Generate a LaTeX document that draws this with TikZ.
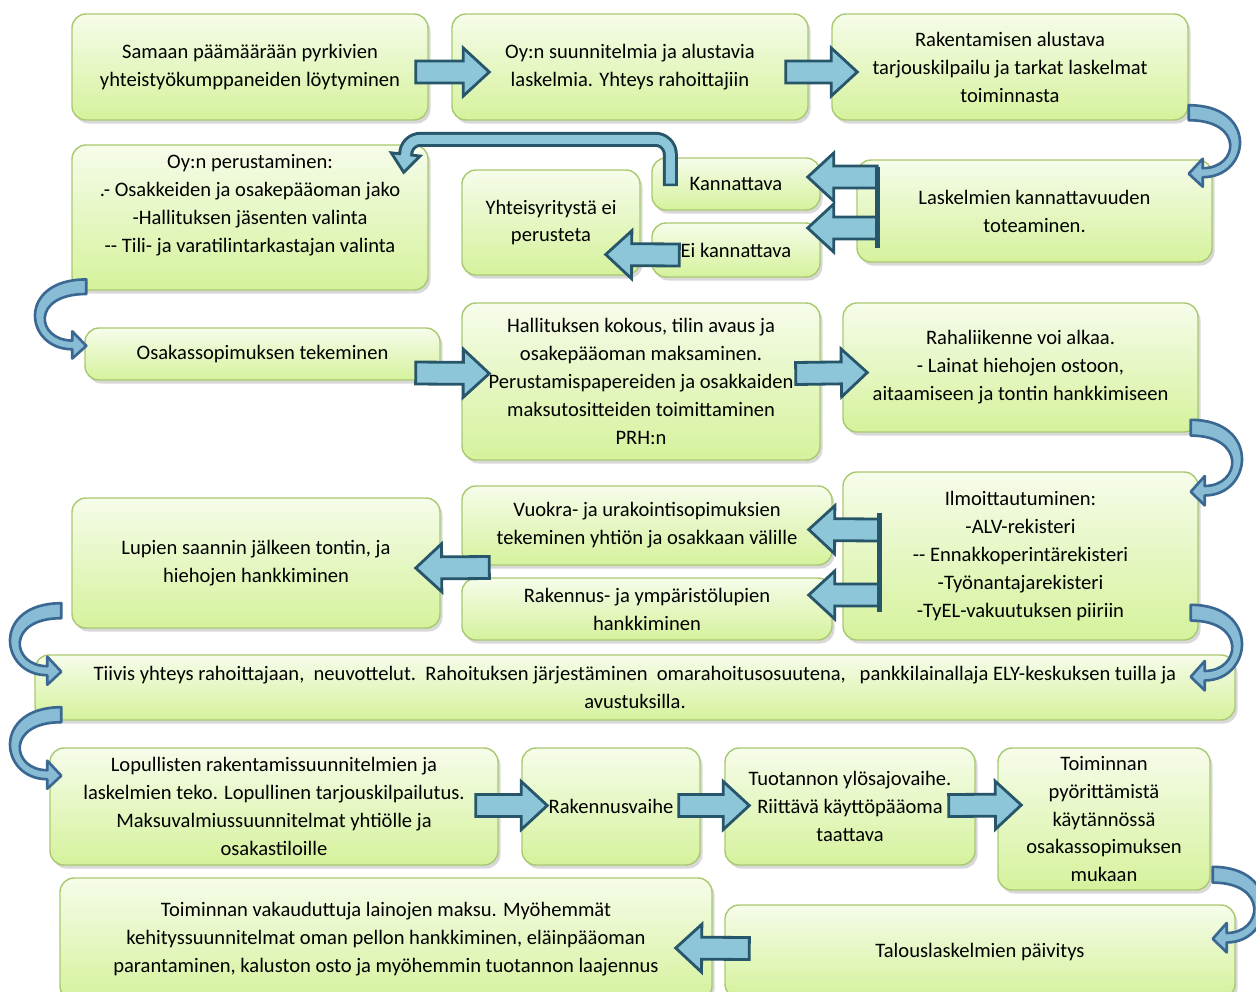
\documentclass[tikz,border=0pt]{standalone}
\usepackage{fontspec}
\setmainfont{Carlito}
\usetikzlibrary{calc,shadows}

\definecolor{boxtop}{HTML}{F6FCEA}
\definecolor{boxbot}{HTML}{D5F29C}
\definecolor{boxline}{HTML}{A9C971}
\definecolor{arrfill}{HTML}{8EC6D9}
\definecolor{arrline}{HTML}{27566A}
\definecolor{curvline}{HTML}{3B6793}
\definecolor{curvfill}{HTML}{88BCD4}

\tikzset{
  box/.style 2 args={draw=boxline, line width=0.8pt, rounded corners=0.28cm,
    top color=boxtop, bottom color=boxbot,
    drop shadow={shadow xshift=0.05cm, shadow yshift=-0.07cm, opacity=0.3},
    minimum width=#1*0.02cm, minimum height=#2*0.02cm,
    align=center, inner sep=0pt, font=\fontsize{11.7}{15.9}\selectfont},
  arrowshape/.style n args={3}{draw=arrline, fill=arrfill, line width=1.6pt, line join=miter,
    to path={let \p1=($(\tikztotarget)!#3!(\tikztostart)$) in
      ($(\tikztostart)!#1!90:(\tikztotarget)$) -- ($(\p1)!#1!90:(\tikztotarget)$)
      -- ($(\p1)!#2!90:(\tikztotarget)$) -- (\tikztotarget)
      -- ($(\p1)!#2!-90:(\tikztotarget)$) -- ($(\p1)!#1!-90:(\tikztotarget)$)
      -- ($(\tikztostart)!#1!-90:(\tikztotarget)$) -- cycle}},
  barrow/.style={arrowshape={0.22cm}{0.48cm}{0.52cm}},
  uhead/.style={arrowshape={0.15cm}{0.29cm}{0.36cm}},
  pics/bend/.style={code={
    \draw[draw=curvline, fill=curvfill, line width=1.5pt, line join=round]
      (0,-7.5) .. controls (70,-7.5) and (62,64.5) .. (14,64.5) -- (14,74) -- (0,61)
      -- (14,46) -- (14,55.5) .. controls (50,55.5) and (56,7.5) .. (0,7.5) -- cycle;
  }}
}

\begin{document}
\begin{tikzpicture}[x=0.02cm, y=-0.02cm]
  \useasboundingbox (0,0) rectangle (1256,991);
  \fill[white] (0,0) rectangle (1256,991);

  % row 1
  \node[box={356}{106}] (etsi) at (250,67) {Samaan päämäärään pyrkivien\\yhteistyökumppaneiden löytyminen};
  \node[box={356}{106}] (suunn) at (630,67) {Oy:n suunnitelmia ja alustavia\\laskelmia. Yhteys rahoittajiin};
  \node[box={356}{106}] (tarjous) at (1010,67) {Rakentamisen alustava\\tarjouskilpailu ja tarkat laskelmat\\toiminnasta};

  % row 2
  \node[box={356}{145}] (perust) at (250,217.5) {Oy:n perustaminen:\\.- Osakkeiden ja osakepääoman jako\\-Hallituksen jäsenten valinta\\-{}- Tili- ja varatilintarkastajan valinta\\\mbox{}};
  \node[box={178}{105}] (eiper) at (551,222.5) {Yhteisyritystä ei\\perusteta};
  \node[box={168}{52}] (kann) at (736,184) {Kannattava};
  \node[box={168}{54}] (eikann) at (736,250) {Ei kannattava};
  \node[box={355}{102}] (laskel) at (1034.5,211) {Laskelmien kannattavuuden\\toteaminen.};

  % row 3
  \node[box={355}{52}] (osakas) at (262.5,354) {Osakassopimuksen tekeminen};
  \node[box={358}{157}] (hall) at (641,381.5) {Hallituksen kokous, tilin avaus ja\\osakepääoman maksaminen.\\Perustamispapereiden ja osakkaiden\\maksutositteiden toimittaminen\\PRH:n};
  \node[box={355}{129}] (raha) at (1020.5,367.5) {Rahaliikenne voi alkaa.\\- Lainat hiehojen ostoon,\\aitaamiseen ja tontin hankkimiseen};

  % row 4
  \node[box={355}{168}] (ilmo) at (1020.5,556) {Ilmoittautuminen:\\-ALV-rekisteri\\-{}- Ennakkoperintärekisteri\\-Työnantajarekisteri\\-TyEL-vakuutuksen piiriin};
  \node[box={370}{79}] (vuokra) at (647,525.5) {Vuokra- ja urakointisopimuksien\\tekeminen yhtiön ja osakkaan välille};
  \node[box={370}{62}] (luvat) at (647,609) {Rakennus- ja ympäristölupien\\hankkiminen};
  \node[box={368}{130}] (lupien) at (256,563) {Lupien saannin jälkeen tontin, ja\\hiehojen hankkiminen};

  % row 5
  \node[box={1200}{65}] (rahoit) at (635,687.5) {Tiivis yhteys rahoittajaan,\ \ neuvottelut.\ \ Rahoituksen järjestäminen\ \ omarahoitusosuutena,\ \ \ pankkilainallaja ELY-keskuksen tuilla ja\\avustuksilla.};

  % row 6
  \node[box={448}{117}] (lopull) at (274,806.5) {Lopullisten rakentamissuunnitelmien ja\\laskelmien teko. Lopullinen tarjouskilpailutus.\\Maksuvalmiussuunnitelmat yhtiölle ja\\osakastiloille};
  \node[box={178}{117}] (rakv) at (611,806.5) {Rakennusvaihe};
  \node[box={250}{117}] (ylos) at (850,806.5) {Tuotannon ylösajovaihe.\\Riittävä käyttöpääoma\\taattava};
  \node[box={212}{142}] (pyor) at (1104,819) {Toiminnan\\pyörittämistä\\käytännössä\\osakassopimuksen\\mukaan};

  % row 7
  \node[box={652}{122}] (vakaus) at (386,939) {Toiminnan vakauduttuja lainojen maksu. Myöhemmät\\kehityssuunnitelmat oman pellon hankkiminen, eläinpääoman\\parantaminen, kaluston osto ja myöhemmin tuotannon laajennus};
  \node[box={510}{93}] (paiv) at (980,951.5) {Talouslaskelmien päivitys};

  % straight arrows
  \draw[barrow] ($(etsi.east)+(-13,5)$) to ($(suunn.west)+(38,5)$);
  \draw[barrow] ($(suunn.east)+(-23,5)$) to ($(tarjous.west)+(26,5)$);
  \draw[barrow] ($(laskel.west)+(21,-34)$) to ($(kann.east)+(-13,-7)$);
  \draw[barrow] ($(laskel.west)+(21,17)$) to ($(eikann.east)+(-13,-22)$);
  \draw[arrline, line width=2.6pt] ($(laskel.west)+(21,-44)$) -- ($(laskel.west)+(21,37)$);
  \draw[barrow] ($(eikann.west)+(28,5)$) to ($(eiper.east)+(-35,32)$);
  \draw[barrow] ($(osakas.east)+(-25,19)$) to ($(hall.west)+(28,-8)$);
  \draw[barrow] ($(hall.east)+(-25,-8)$) to ($(raha.west)+(25,5)$);
  \draw[barrow] ($(ilmo.west)+(37,-26)$) to ($(vuokra.east)+(-24,4)$);
  \draw[barrow] ($(ilmo.west)+(37,39)$) to ($(luvat.east)+(-24,-14)$);
  \draw[arrline, line width=2.6pt] ($(ilmo.west)+(37,-43)$) -- ($(ilmo.west)+(37,56)$);
  \draw[barrow] ($(vuokra.west)+(28,42)$) to ($(lupien.east)+(-25,5)$);
  \draw[barrow] ($(lopull.east)+(-23,-1)$) to ($(rakv.west)+(26,-1)$);
  \draw[barrow] ($(rakv.east)+(-22,-1)$) to ($(ylos.west)+(25,-1)$);
  \draw[barrow] ($(ylos.east)+(-27,-1)$) to ($(pyor.west)+(24,-14)$);
  \draw[barrow] ($(paiv.west)+(25,-3)$) to ($(vakaus.east)+(-37,9)$);

  % kannattava back to perustaminen
  \coordinate (kt) at ($(kann.west)+(19,2)$);
  \coordinate (kc) at ($(perust.north east)+(-23,-5)$);
  \draw[arrline, line width=0.3cm, rounded corners=0.3cm] (kt) |- (kc) -- ++(0,16);
  \draw[uhead] ($(kc)+(0,15)$) to ($(kc)+(-2,33)$);
  \draw[arrfill, line width=0.18cm, rounded corners=0.3cm, shorten <=0.05cm] (kt) |- (kc) -- ++(0,17);

  % curved arrows
  \pic at ($(tarjous.south east)+(0,-8)$) {bend};
  \pic[xscale=-1, yscale=0.97] at ($(perust.south west)+(15,-4)$) {bend};
  \pic[yscale=1.05] at ($(raha.south east)+(-8,-5)$) {bend};
  \pic[yscale=1.05] at ($(ilmo.south east)+(-8,-28)$) {bend};
  \pic[xscale=-1] at ($(lupien.south west)+(-10,-18)$) {bend};
  \pic[xscale=-1] at ($(rahoit.south west)+(27,-6)$) {bend};
  \pic[yscale=1.05] at ($(pyor.south east)+(2,-16)$) {bend};
\end{tikzpicture}
\end{document}
